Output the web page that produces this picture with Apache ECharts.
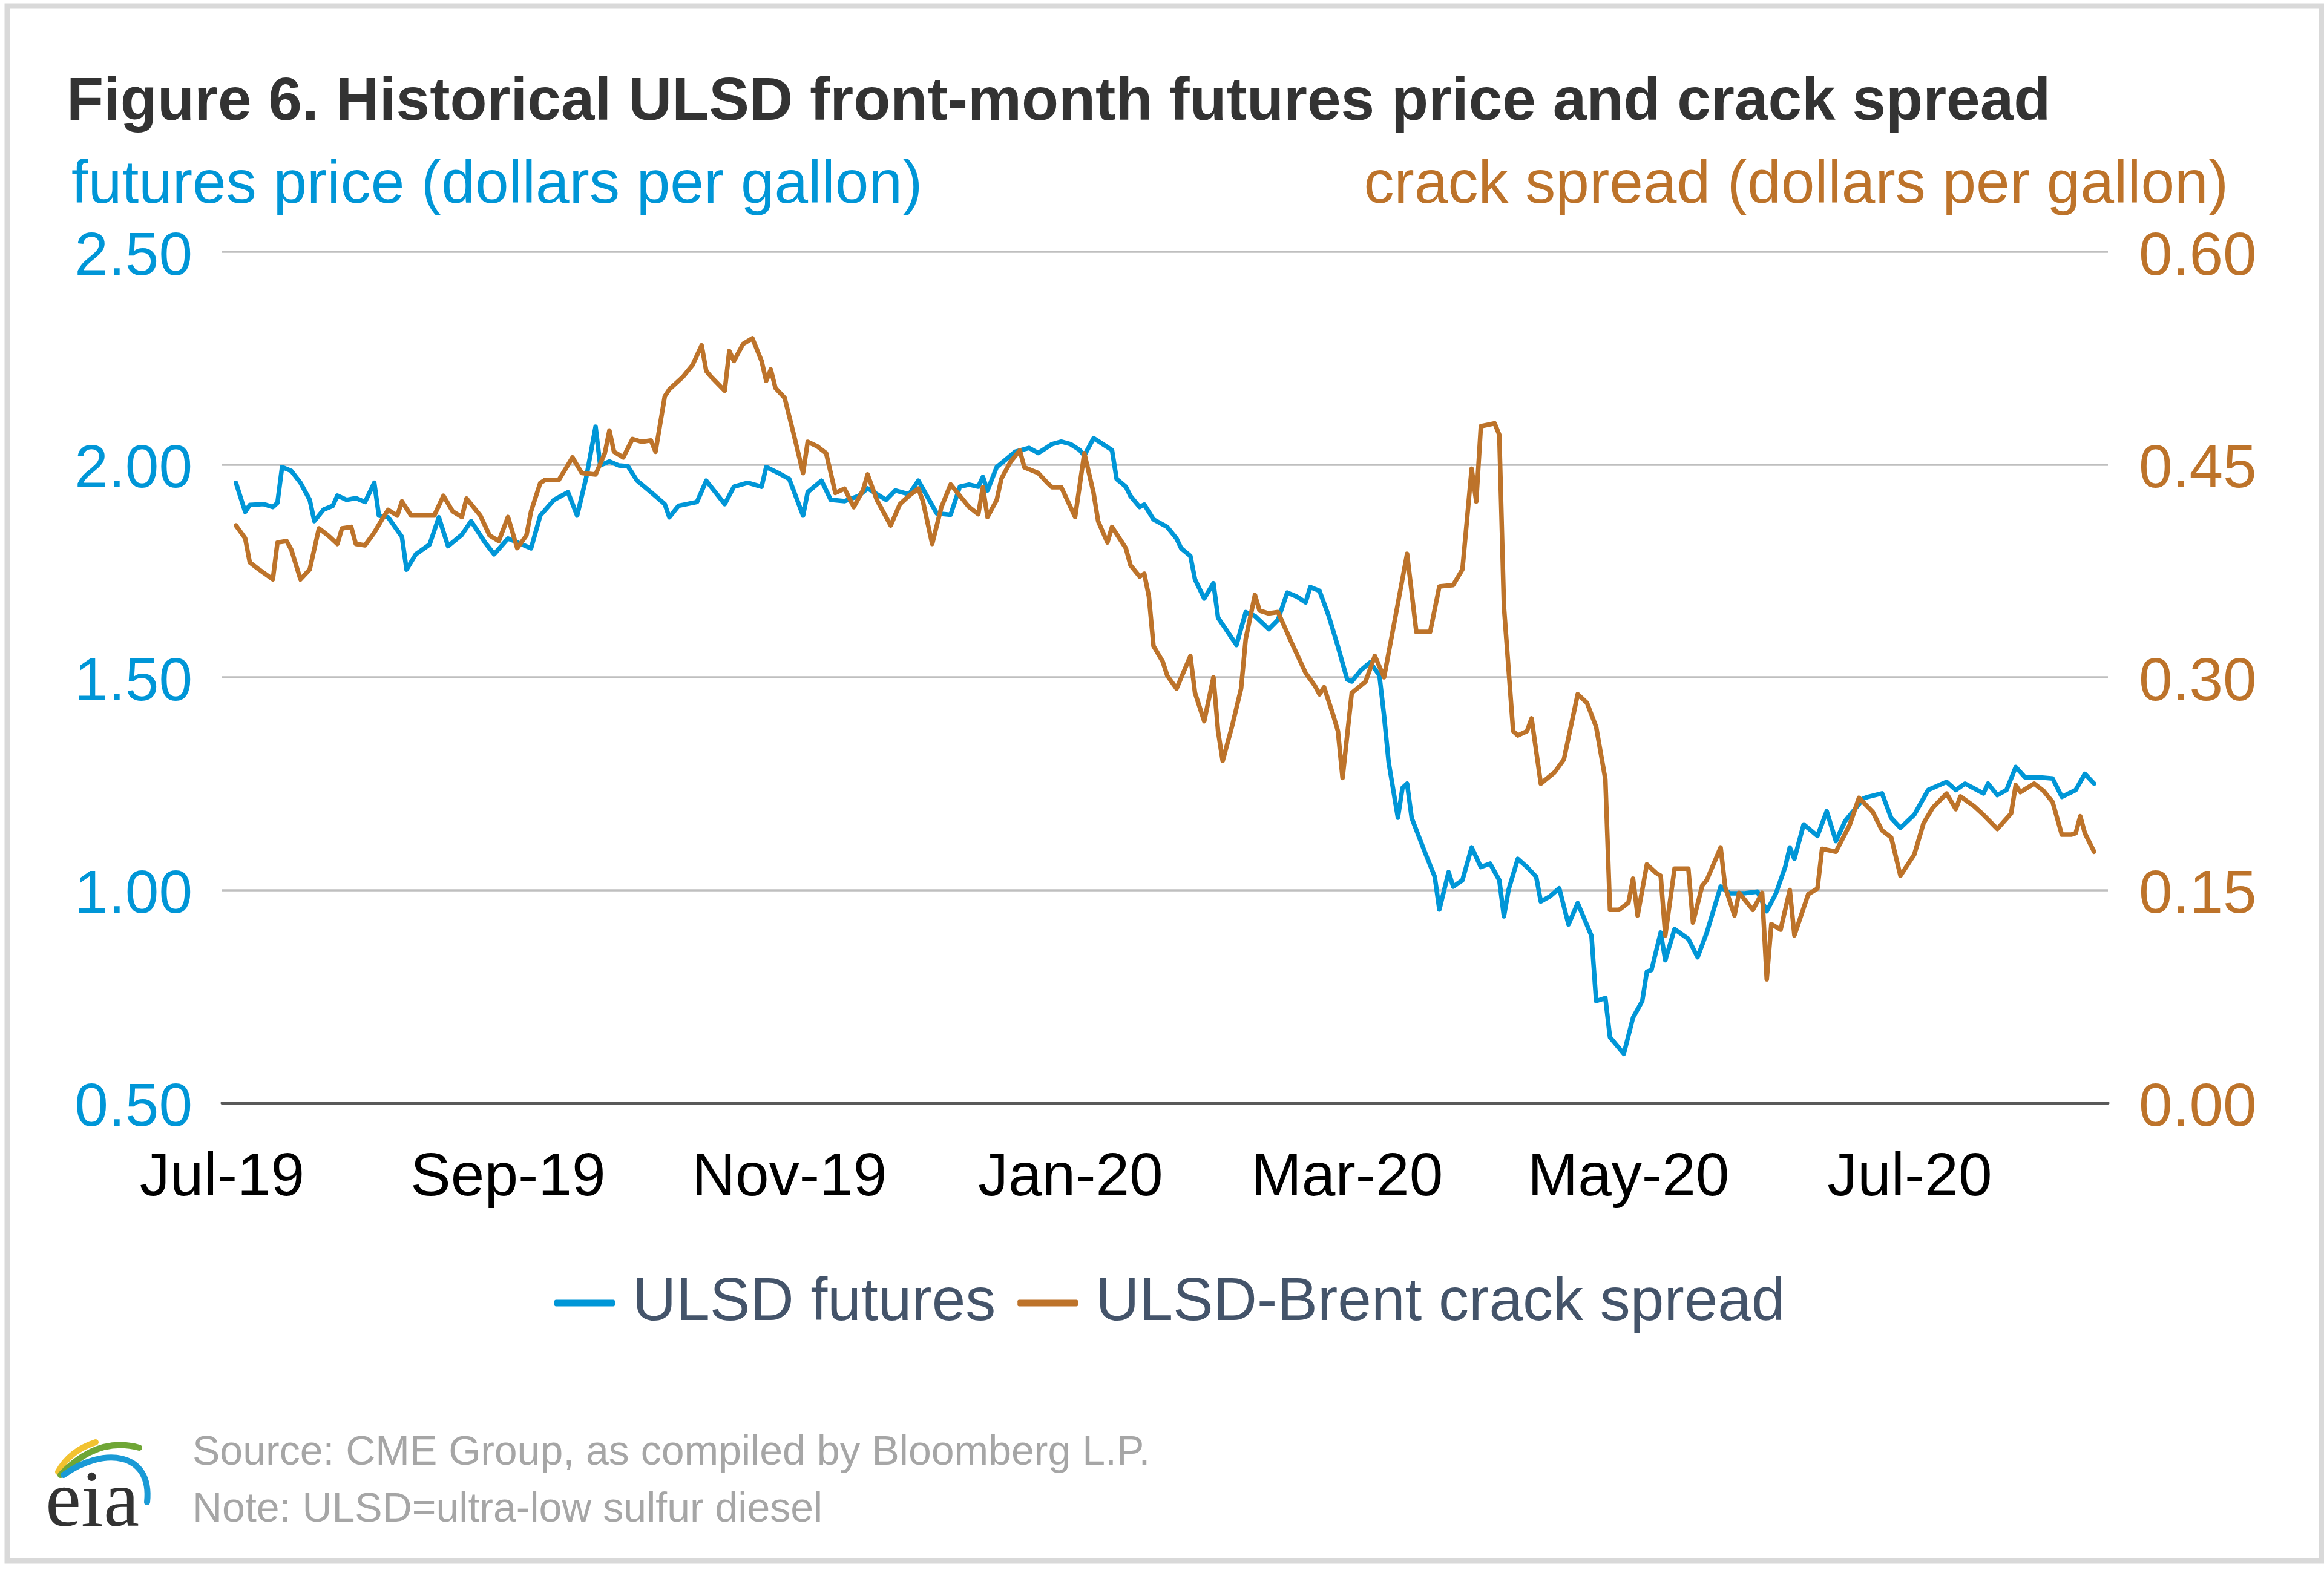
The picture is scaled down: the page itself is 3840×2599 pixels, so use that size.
<!DOCTYPE html>
<html>
<head>
<meta charset="utf-8">
<script src="https://cdn.jsdelivr.net/npm/echarts@6/dist/echarts.min.js"></script>
<style>
html,body{margin:0;padding:0;background:#fff;}
#chart{width:3840px;height:2599px;}
</style>
</head>
<body>
<div id="chart"></div>
<script>
// ---- data ----
const futuresDates = [
'2019-07-04','2019-07-06','2019-07-07','2019-07-10','2019-07-12','2019-07-13','2019-07-14','2019-07-16','2019-07-18','2019-07-20',
'2019-07-21','2019-07-23','2019-07-25','2019-07-26','2019-07-28','2019-07-30','2019-08-01','2019-08-03','2019-08-04','2019-08-06',
'2019-08-09','2019-08-10','2019-08-12','2019-08-15','2019-08-17','2019-08-19','2019-08-22','2019-08-24','2019-08-27','2019-08-29',
'2019-09-01','2019-09-03','2019-09-06','2019-09-08','2019-09-11','2019-09-14','2019-09-16','2019-09-18','2019-09-20','2019-09-21',
'2019-09-23','2019-09-25','2019-09-27','2019-09-29','2019-10-02','2019-10-05','2019-10-06','2019-10-08','2019-10-12','2019-10-14',
'2019-10-18','2019-10-20','2019-10-23','2019-10-26','2019-10-27','2019-10-30','2019-11-01','2019-11-04','2019-11-05','2019-11-08',
'2019-11-10','2019-11-13','2019-11-16','2019-11-18','2019-11-22','2019-11-24','2019-11-27','2019-11-29','2019-12-03','2019-12-06',
'2019-12-08','2019-12-10','2019-12-12','2019-12-13','2019-12-14','2019-12-16','2019-12-18','2019-12-20','2019-12-23','2019-12-25',
'2019-12-28','2019-12-30','2020-01-01','2020-01-03','2020-01-04','2020-01-06','2020-01-08','2020-01-10','2020-01-11','2020-01-13',
'2020-01-14','2020-01-16','2020-01-17','2020-01-19','2020-01-22','2020-01-24','2020-01-25','2020-01-27','2020-01-28','2020-01-30',
'2020-02-01','2020-02-02','2020-02-04','2020-02-06','2020-02-08','2020-02-10','2020-02-13','2020-02-15','2020-02-17','2020-02-19',
'2020-02-21','2020-02-22','2020-02-24','2020-02-26','2020-02-28','2020-03-01','2020-03-02','2020-03-04','2020-03-06','2020-03-08',
'2020-03-09','2020-03-10','2020-03-12','2020-03-13','2020-03-14','2020-03-15','2020-03-18','2020-03-20','2020-03-21','2020-03-23',
'2020-03-24','2020-03-26','2020-03-28','2020-03-30','2020-04-01','2020-04-03','2020-04-04','2020-04-05','2020-04-07','2020-04-09',
'2020-04-11','2020-04-12','2020-04-14','2020-04-16','2020-04-18','2020-04-20','2020-04-23','2020-04-24','2020-04-26','2020-04-27',
'2020-04-30','2020-05-02','2020-05-04','2020-05-05','2020-05-06','2020-05-08','2020-05-09','2020-05-11','2020-05-14','2020-05-16',
'2020-05-18','2020-05-21','2020-05-23','2020-05-26','2020-05-29','2020-05-31','2020-06-02','2020-06-04','2020-06-05','2020-06-06',
'2020-06-08','2020-06-11','2020-06-13','2020-06-15','2020-06-17','2020-06-21','2020-06-22','2020-06-25','2020-06-27','2020-06-29',
'2020-07-02','2020-07-05','2020-07-09','2020-07-11','2020-07-13','2020-07-17','2020-07-18','2020-07-20','2020-07-22','2020-07-24',
'2020-07-26','2020-07-29','2020-08-01','2020-08-03','2020-08-06','2020-08-08','2020-08-10'
];
const futuresValues = [
1.957,1.889,1.905,1.907,1.900,1.910,1.994,1.985,1.957,1.917,
1.867,1.894,1.903,1.927,1.917,1.921,1.912,1.957,1.880,1.876,
1.830,1.753,1.789,1.812,1.876,1.808,1.835,1.867,1.817,1.789,
1.826,1.817,1.803,1.880,1.917,1.935,1.880,1.971,2.089,1.998,
2.007,1.998,1.996,1.962,1.935,1.907,1.876,1.903,1.912,1.962,
1.907,1.948,1.957,1.948,1.994,1.978,1.966,1.880,1.935,1.962,
1.917,1.914,1.926,1.944,1.917,1.939,1.930,1.962,1.885,1.882,
1.948,1.953,1.948,1.971,1.939,1.994,2.012,2.030,2.039,2.027,
2.048,2.054,2.048,2.034,2.021,2.062,2.048,2.034,1.966,1.948,
1.926,1.900,1.906,1.871,1.853,1.826,1.803,1.785,1.730,1.685,
1.721,1.640,1.608,1.576,1.653,1.644,1.613,1.635,1.699,1.690,
1.676,1.712,1.703,1.644,1.572,1.495,1.490,1.517,1.535,1.504,
1.410,1.300,1.170,1.240,1.250,1.169,1.085,1.031,0.954,1.042,
1.008,1.023,1.100,1.054,1.062,1.023,0.938,1.000,1.073,1.054,
1.031,0.973,0.985,1.004,0.919,0.969,0.892,0.739,0.746,0.654,
0.615,0.700,0.739,0.808,0.812,0.900,0.835,0.908,0.885,0.842,
0.900,1.008,0.992,0.992,0.996,0.950,0.992,1.054,1.100,1.073,
1.154,1.127,1.185,1.115,1.162,1.215,1.219,1.227,1.169,1.146,
1.177,1.235,1.254,1.235,1.250,1.227,1.250,1.223,1.235,1.289,
1.265,1.265,1.262,1.219,1.235,1.273,1.250
];
const crackDates = [
'2019-07-04','2019-07-06','2019-07-07','2019-07-09','2019-07-12','2019-07-13','2019-07-15','2019-07-16','2019-07-18','2019-07-20',
'2019-07-22','2019-07-24','2019-07-26','2019-07-27','2019-07-29','2019-07-30','2019-08-01','2019-08-03','2019-08-05','2019-08-06',
'2019-08-08','2019-08-09','2019-08-11','2019-08-13','2019-08-16','2019-08-18','2019-08-20','2019-08-22','2019-08-23','2019-08-26',
'2019-08-28','2019-08-30','2019-09-01','2019-09-03','2019-09-05','2019-09-06','2019-09-08','2019-09-09','2019-09-12','2019-09-15',
'2019-09-17','2019-09-20','2019-09-22','2019-09-23','2019-09-24','2019-09-26','2019-09-28','2019-09-30','2019-10-02','2019-10-03',
'2019-10-05','2019-10-06','2019-10-09','2019-10-11','2019-10-13','2019-10-14','2019-10-15','2019-10-18','2019-10-19','2019-10-20',
'2019-10-22','2019-10-24','2019-10-26','2019-10-27','2019-10-28','2019-10-29','2019-10-31','2019-11-02','2019-11-04','2019-11-05',
'2019-11-07','2019-11-09','2019-11-11','2019-11-13','2019-11-15','2019-11-17','2019-11-18','2019-11-20','2019-11-23','2019-11-25',
'2019-11-27','2019-11-29','2019-11-30','2019-12-02','2019-12-04','2019-12-06','2019-12-08','2019-12-10','2019-12-12','2019-12-13',
'2019-12-14','2019-12-16','2019-12-17','2019-12-19','2019-12-21','2019-12-22','2019-12-25','2019-12-27','2019-12-28','2019-12-30',
'2020-01-02','2020-01-04','2020-01-06','2020-01-07','2020-01-09','2020-01-10','2020-01-13','2020-01-14','2020-01-16','2020-01-17',
'2020-01-18','2020-01-19','2020-01-21','2020-01-22','2020-01-24','2020-01-27','2020-01-28','2020-01-30','2020-02-01','2020-02-02',
'2020-02-03','2020-02-05','2020-02-07','2020-02-08','2020-02-10','2020-02-11','2020-02-13','2020-02-15','2020-02-18','2020-02-21',
'2020-02-23','2020-02-24','2020-02-25','2020-02-27','2020-02-28','2020-02-29','2020-03-02','2020-03-05','2020-03-07','2020-03-09',
'2020-03-12','2020-03-14','2020-03-16','2020-03-19','2020-03-21','2020-03-24','2020-03-26','2020-03-28','2020-03-29','2020-03-30',
'2020-04-02','2020-04-03','2020-04-04','2020-04-06','2020-04-07','2020-04-09','2020-04-10','2020-04-12','2020-04-15','2020-04-17',
'2020-04-20','2020-04-22','2020-04-24','2020-04-26','2020-04-27','2020-04-29','2020-05-01','2020-05-02','2020-05-03','2020-05-05',
'2020-05-07','2020-05-08','2020-05-09','2020-05-11','2020-05-14','2020-05-15','2020-05-17','2020-05-18','2020-05-21','2020-05-22',
'2020-05-24','2020-05-25','2020-05-28','2020-05-30','2020-05-31','2020-06-01','2020-06-03','2020-06-05','2020-06-06','2020-06-09',
'2020-06-11','2020-06-12','2020-06-15','2020-06-18','2020-06-20','2020-06-23','2020-06-25','2020-06-27','2020-06-29','2020-07-02',
'2020-07-04','2020-07-06','2020-07-09','2020-07-11','2020-07-12','2020-07-15','2020-07-17','2020-07-20','2020-07-23','2020-07-24',
'2020-07-25','2020-07-28','2020-07-30','2020-08-01','2020-08-03','2020-08-05','2020-08-06','2020-08-07','2020-08-08','2020-08-10'
];
const crackValues = [
0.407,0.398,0.381,0.376,0.369,0.395,0.396,0.390,0.369,0.376,
0.405,0.400,0.394,0.405,0.406,0.394,0.393,0.402,0.413,0.418,
0.414,0.424,0.414,0.414,0.414,0.428,0.417,0.413,0.426,0.414,
0.400,0.396,0.413,0.391,0.400,0.417,0.437,0.439,0.439,0.455,
0.444,0.443,0.458,0.474,0.459,0.455,0.468,0.466,0.467,0.459,
0.498,0.503,0.512,0.520,0.534,0.516,0.512,0.502,0.530,0.523,
0.535,0.539,0.523,0.509,0.517,0.504,0.497,0.471,0.444,0.466,
0.463,0.458,0.430,0.433,0.420,0.432,0.443,0.425,0.407,0.422,
0.428,0.433,0.424,0.394,0.420,0.436,0.428,0.420,0.415,0.434,
0.413,0.425,0.440,0.452,0.460,0.448,0.444,0.437,0.434,0.434,
0.413,0.458,0.430,0.410,0.395,0.406,0.391,0.379,0.371,0.373,
0.357,0.322,0.311,0.301,0.292,0.315,0.289,0.269,0.300,0.262,
0.241,0.265,0.292,0.327,0.358,0.347,0.345,0.346,0.324,0.303,
0.294,0.288,0.293,0.273,0.262,0.229,0.289,0.297,0.315,0.300,
0.352,0.387,0.332,0.332,0.364,0.365,0.376,0.447,0.424,0.477,
0.479,0.471,0.350,0.262,0.259,0.262,0.271,0.225,0.233,0.242,
0.288,0.282,0.265,0.228,0.136,0.136,0.141,0.158,0.132,0.168,
0.162,0.160,0.118,0.165,0.165,0.127,0.153,0.157,0.180,0.152,
0.132,0.148,0.136,0.148,0.087,0.126,0.122,0.150,0.118,0.147,
0.151,0.179,0.177,0.196,0.215,0.205,0.192,0.187,0.160,0.175,
0.197,0.208,0.218,0.207,0.216,0.209,0.203,0.193,0.204,0.224,
0.219,0.225,0.220,0.212,0.189,0.189,0.190,0.202,0.190,0.177
];
const xAxisStart = '2019-07-01';
const xAxisEnd = '2020-08-13';
const xTickDates = ['2019-07-01','2019-09-01','2019-11-01','2020-01-01','2020-03-01','2020-05-01','2020-07-01'];
const leftTicks = [0.5, 1.0, 1.5, 2.0, 2.5];
const rightTicks = [0.00, 0.15, 0.30, 0.45, 0.60];
const seriesNames = ['ULSD futures', 'ULSD-Brent crack spread'];
const monthNames = ['Jan','Feb','Mar','Apr','May','Jun','Jul','Aug','Sep','Oct','Nov','Dec'];

// ---- helpers ----
function ts(s) { const p = s.split('-').map(Number); return new Date(p[0], p[1] - 1, p[2]).getTime(); }
function pairs(dates, vals) { return dates.map((d, i) => [ts(d), vals[i]]); }

const FONT = "'Liberation Sans', Arial, sans-serif";
const BLUE = '#0096D7';
const BROWN = '#BD732A';

const chart = echarts.init(document.getElementById('chart'), null, { renderer: 'canvas' });
const option = {
  backgroundColor: '#ffffff',
  animation: false,
  title: [
    { text: 'Figure 6. Historical ULSD front-month futures price and crack spread', left: 110, top: 120, padding: 0,
      textStyle: { fontFamily: FONT, fontSize: 100, lineHeight: 100, fontWeight: 'bold', color: '#333333' } },
    { text: 'futures price (dollars per gallon)', left: 118, top: 257, padding: 0,
      textStyle: { fontFamily: FONT, fontSize: 100, lineHeight: 100, fontWeight: 'normal', color: BLUE } },
    { text: 'crack spread (dollars per gallon)', right: 158, top: 257, padding: 0,
      textStyle: { fontFamily: FONT, fontSize: 100, lineHeight: 100, fontWeight: 'normal', color: BROWN } },
    { text: 'Source: CME Group, as compiled by Bloomberg L.P.', left: 318, top: 2367, padding: 0,
      textStyle: { fontFamily: FONT, fontSize: 68, lineHeight: 68, fontWeight: 'normal', color: '#A6A6A6' } },
    { text: 'Note: ULSD=ultra-low sulfur diesel', left: 318, top: 2461, padding: 0,
      textStyle: { fontFamily: FONT, fontSize: 68, lineHeight: 68, fontWeight: 'normal', color: '#A6A6A6' } }
  ],
  legend: {
    data: seriesNames,
    left: 916, top: 2103, padding: 0,
    icon: 'roundRect', itemWidth: 100, itemHeight: 11, itemGap: 36,
    textStyle: { fontFamily: FONT, fontSize: 100, lineHeight: 100, color: '#44546A', padding: [0, 0, 0, 24] }
  },
  grid: { left: 367, right: 357, top: 416, bottom: 777, containLabel: false },
  xAxis: {
    type: 'value',
    min: ts(xAxisStart), max: ts(xAxisEnd),
    axisLine: { show: true, onZero: false, lineStyle: { color: '#595959', width: 5 } },
    axisTick: { show: false },
    splitLine: { show: false },
    axisLabel: {
      customValues: xTickDates.map(ts),
      showMinLabel: true, showMaxLabel: true,
      margin: 75,
      fontFamily: FONT, fontSize: 100, lineHeight: 100, color: '#000000',
      formatter: function (v) { const d = new Date(v); return monthNames[d.getMonth()] + '-' + String(d.getFullYear()).slice(2); }
    }
  },
  yAxis: [
    {
      type: 'value', position: 'left',
      min: leftTicks[0], max: leftTicks[leftTicks.length - 1], interval: 0.5,
      axisLine: { show: false }, axisTick: { show: false },
      splitLine: { show: true, lineStyle: { color: '#BFBFBF', width: 3.5 } },
      axisLabel: { margin: 49, fontFamily: FONT, fontSize: 100, lineHeight: 20, verticalAlign: 'top', color: BLUE,
        formatter: v => v.toFixed(2) }
    },
    {
      type: 'value', position: 'right',
      min: rightTicks[0], max: rightTicks[rightTicks.length - 1], interval: 0.15,
      axisLine: { show: false }, axisTick: { show: false },
      splitLine: { show: false },
      axisLabel: { margin: 51, fontFamily: FONT, fontSize: 100, lineHeight: 20, verticalAlign: 'top', color: BROWN,
        formatter: v => v.toFixed(2) }
    }
  ],
  series: [
    { name: seriesNames[0], type: 'line', yAxisIndex: 0, data: pairs(futuresDates, futuresValues),
      showSymbol: false, symbol: 'none', smooth: false, color: BLUE,
      lineStyle: { color: BLUE, width: 7.5, cap: 'round', join: 'round' }, z: 2 },
    { name: seriesNames[1], type: 'line', yAxisIndex: 1, data: pairs(crackDates, crackValues),
      showSymbol: false, symbol: 'none', smooth: false, color: BROWN,
      lineStyle: { color: BROWN, width: 7.5, cap: 'round', join: 'round' }, z: 3 }
  ],
  graphic: [
    { type: 'rect', z: -1, silent: true, shape: { x: 12, y: 10, width: 3824, height: 2569 },
      style: { fill: 'none', stroke: '#D9D9D9', lineWidth: 9 } },
    { type: 'text', left: 75, top: 2420, silent: true,
      style: { text: 'eia', font: "133px 'Liberation Serif', 'DejaVu Serif', serif", fill: '#333333' } },
    { type: 'bezierCurve', silent: true,
      shape: { x1: 96, y1: 2432, cpx1: 115, cpy1: 2397, x2: 158, y2: 2383 },
      style: { stroke: '#F2C230', lineWidth: 10, fill: 'none', lineCap: 'round' } },
    { type: 'bezierCurve', silent: true,
      shape: { x1: 100, y1: 2437, cpx1: 160, cpy1: 2373, x2: 230, y2: 2392 },
      style: { stroke: '#6FA636', lineWidth: 10, fill: 'none', lineCap: 'round' } },
    { type: 'bezierCurve', silent: true,
      shape: { x1: 105, y1: 2437, cpx1: 170, cpy1: 2390, cpx2: 252, cpy2: 2398, x2: 243, y2: 2482 },
      style: { stroke: '#1A9AD6', lineWidth: 10, fill: 'none', lineCap: 'round' } }
  ]
};
chart.setOption(option);
</script>
</body>
</html>
